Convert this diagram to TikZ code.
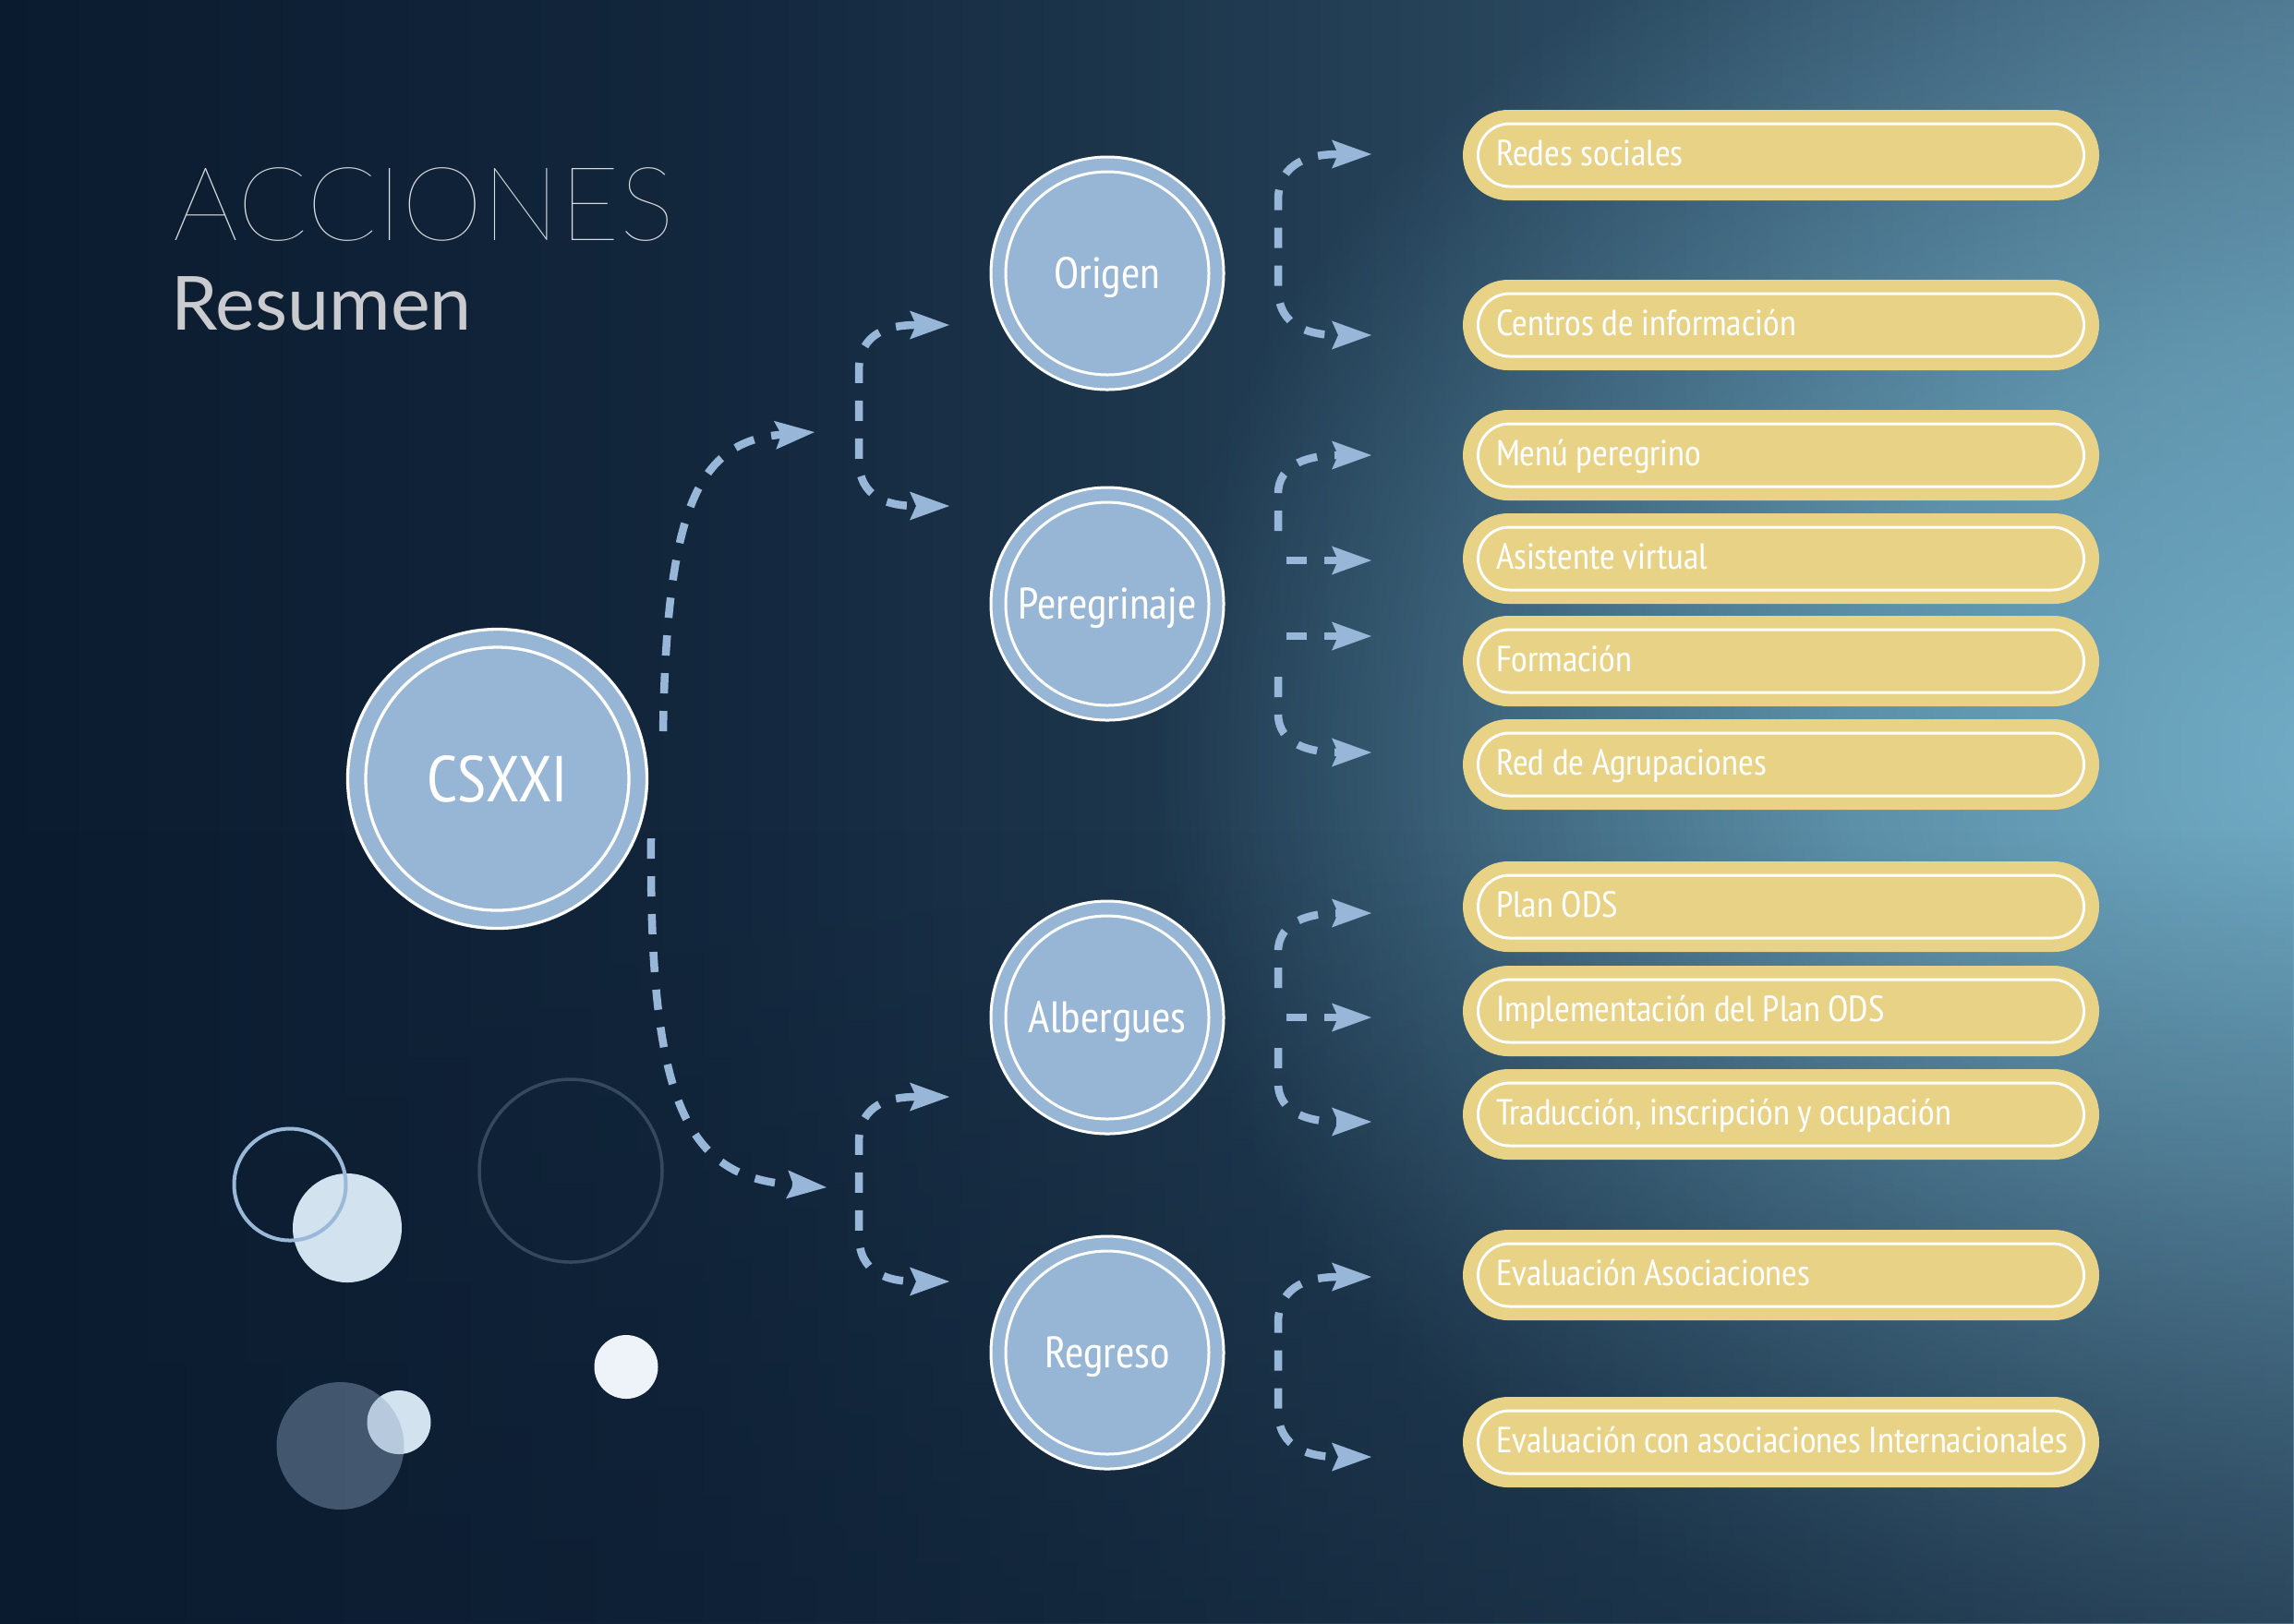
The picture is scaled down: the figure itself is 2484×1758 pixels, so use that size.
\documentclass[tikz,border=0pt]{standalone}
\usepackage{fontspec}
\usetikzlibrary{arrows.meta,fadings}
\suppressfontnotfounderror=1
\font\probeA="PT Sans Narrow" at 10pt
\ifx\probeA\nullfont
  \newfontfamily\condfont{PT Sans}[FakeStretch=0.84]
\else
  \newfontfamily\condfont{PT Sans Narrow}[FakeStretch=1.035]
\fi
\font\probeB="Lato Hairline" at 10pt
\ifx\probeB\nullfont
  \font\probeC="Lato Light" at 10pt
  \ifx\probeC\nullfont
    \newfontfamily\thinfont{Lato}
  \else
    \newfontfamily\thinfont{Lato Light}
  \fi
\else
  \newfontfamily\thinfont{Lato Hairline}
\fi
\suppressfontnotfounderror=0
\newfontfamily\latofont{Lato}

\definecolor{bgA}{HTML}{0B1B2F}
\definecolor{bgB}{HTML}{12263C}
\definecolor{bgC}{HTML}{1D364C}
\definecolor{bgD}{HTML}{2D4D64}
\definecolor{bgE}{HTML}{466A82}
\definecolor{glowc}{HTML}{7EC0DA}
\definecolor{circblue}{HTML}{97B5D5}
\definecolor{arrowblue}{HTML}{98B7D8}
\definecolor{boxyellow}{HTML}{E8D285}
\definecolor{titlegrey}{HTML}{D9DCDF}
\definecolor{subgrey}{HTML}{C9CBCE}
\definecolor{ringblue}{HTML}{9AB8D8}
\definecolor{paleblue}{HTML}{D2E2EF}
\definecolor{darkring}{HTML}{34495F}
\definecolor{dotwhite}{HTML}{EEF3FA}
\definecolor{veilblue}{HTML}{91AAC5}

\pgfdeclarehorizontalshading{bgshade}{100bp}{color(0bp)=(bgA); color(25bp)=(bgA); color(40bp)=(bgB); color(50bp)=(bgC); color(62bp)=(bgD); color(75bp)=(bgE); color(100bp)=(bgE)}
\pgfdeclareradialshading{glowmask}{\pgfpointorigin}{color(0bp)=(white!75!black); color(10bp)=(white!55!black); color(25bp)=(black); color(50bp)=(black)}
\pgfdeclarefading{glowfade}{\pgfuseshading{glowmask}}
\tikzfading[name=bottomdark, top color=transparent!100, bottom color=transparent!50]

\tikzset{
  conn/.style={draw=arrowblue, line width=0.85mm, dash pattern=on 2.2mm off 1.9mm},
  ybox/.style={rectangle, rounded corners=4.9mm, fill=boxyellow, minimum height=9.8mm,
    text width=61.7mm, inner xsep=3.6mm, inner ysep=0pt, align=flush left, text=white,
    font=\condfont\fontsize{11.2}{12}\selectfont, text height=2.2mm, text depth=0mm},
  yring/.style={rectangle, rounded corners=3.4mm, draw=white, line width=0.3mm,
    minimum width=65.6mm, minimum height=6.8mm, inner sep=0pt},
  circnode/.style={circle, fill=circblue, draw=white, line width=0.3mm, minimum size=25.2mm,
    inner sep=0pt, text=white, font=\condfont\fontsize{13.6}{14}\selectfont,
    text height=9.5pt, text depth=0pt},
  bignode/.style={circle, fill=circblue, draw=white, line width=0.33mm, minimum size=32.4mm,
    inner sep=0pt, text=white, font=\condfont\fontsize{20}{21}\selectfont,
    text height=14pt, text depth=0pt},
  inring/.style={draw=white, line width=0.3mm}
}

\begin{document}
\begin{tikzpicture}[x=0.1mm, y=-0.1mm,
  >={Stealth[length=4.3mm, width=3.1mm, inset=0.7mm, line width=0pt]}]
\useasboundingbox (0,0) rectangle (2484,1758);
% background
\shade[shading=bgshade] (0,0) rectangle (2484,1758);
\fill[glowc, path fading=glowfade, fit fading=true] (2500,820) ellipse [x radius=1250, y radius=1050];
\fill[bgA, path fading=bottomdark, fit fading=true] (0,900) rectangle (2484,1758);

% title
\node[anchor=base west, inner sep=0pt, text=titlegrey,
  font=\thinfont\fontsize{31.7}{32}\selectfont] (title) at (187,260) {ACCIONES};
\node[anchor=base west, inner sep=0pt, text=subgrey,
  font=\latofont\fontsize{23}{24}\selectfont] (subtitle) at (185,357) {Resumen};

% decorative circles
\fill[paleblue] (376,1330) circle (59);
\draw[ringblue, line width=0.4mm] (314,1283) circle (60.5);
\draw[darkring, line width=0.35mm] (618,1268) circle (99);
\fill[dotwhite] (678,1480.5) circle (34.5);
\fill[paleblue] (432,1540.5) circle (34.5);
\fill[veilblue, opacity=0.41] (368.5,1566) circle (69);

% main circles
\node[bignode] (csxxi) at (538.5,843.5) {CSXXI};
\draw[inring, line width=0.33mm] (csxxi.center) circle (142.5);
\node[circnode] (origen) at (1199,296) {Origen};
\node[circnode] (peregrinaje) at (1199,654) {Peregrinaje};
\node[circnode] (albergues) at (1199,1102) {Albergues};
\node[circnode] (regreso) at (1199,1465) {Regreso};
\foreach \c in {origen,peregrinaje,albergues,regreso} {
  \draw[inring] (\c.center) circle (110);
}

% boxes
\foreach \n/\yy/\t in {1/168/{Redes sociales}, 2/352/{Centros de información},
  3/493/{Menú peregrino}, 4/605/{Asistente virtual}, 5/716/{Formación},
  6/828/{Red de Agrupaciones}, 7/982/{Plan ODS}, 8/1095/{Implementación del Plan ODS},
  9/1207/{Traducción, inscripción y ocupación}, 10/1381/{Evaluación Asociaciones},
  11/1562/{Evaluación con asociaciones Internacionales}} {
  \node[ybox] (b\n) at (1928.5,\yy) {\mbox{\t}};
  \node[yring] (r\n) at (b\n.center) {};
}

% connector end points
\coordinate (m1s) at (718,792);  \coordinate (m1t) at (882,468);
\coordinate (m2s) at (705,908);  \coordinate (m2t) at (895,1286);
\coordinate (a1) at (1028,352);  \coordinate (a2) at (1028,548);
\coordinate (b1) at (1028,1188); \coordinate (b2) at (1028,1388);
\coordinate (o1) at (1485,167);  \coordinate (o2) at (1485,363);
\coordinate (p1) at (1485,493);  \coordinate (p4) at (1485,815);
\coordinate (p1s) at (1384,575); \coordinate (p4s) at (1384,733);
\coordinate (p2s) at (1393,607); \coordinate (p2) at (1485,607);
\coordinate (p3s) at (1393,689); \coordinate (p3) at (1485,689);
\coordinate (g1) at (1485,989);  \coordinate (g3) at (1485,1215);
\coordinate (g1s) at (1384,1070); \coordinate (g3s) at (1384,1135);
\coordinate (g2s) at (1393,1102); \coordinate (g2) at (1485,1102);
\coordinate (e1) at (1485,1383); \coordinate (e2) at (1485,1578);

% CSXXI branches
\draw[conn, ->] (m1s) .. controls (722,560) and (752,478) .. (m1t);
\draw[conn, ->] (m2s) .. controls (703,1200) and (745,1275) .. (m2t);

% second level C shapes
\draw[conn, <->] (a1) .. controls (963,352) and (930,360) .. (930,402) -- (930,498)
  .. controls (930,540) and (963,548) .. (a2);
\draw[conn, <->] (b1) .. controls (963,1188) and (930,1196) .. (930,1238) -- (930,1338)
  .. controls (930,1380) and (963,1388) .. (b2);

% third level
\draw[conn, <->] (o1) .. controls (1420,167) and (1384,175) .. (1384,217) -- (1384,313)
  .. controls (1384,355) and (1420,363) .. (o2);
\draw[conn, ->] (p1s) -- (1384,535) .. controls (1384,501) and (1420,493) .. (p1);
\draw[conn, ->] (p2s) -- (p2);
\draw[conn, ->] (p3s) -- (p3);
\draw[conn, ->] (p4s) -- (1384,773) .. controls (1384,807) and (1420,815) .. (p4);
\draw[conn, ->] (g1s) -- (1384,1031) .. controls (1384,997) and (1420,989) .. (g1);
\draw[conn, ->] (g2s) -- (g2);
\draw[conn, ->] (g3s) -- (1384,1173) .. controls (1384,1207) and (1420,1215) .. (g3);
\draw[conn, <->] (e1) .. controls (1420,1383) and (1384,1391) .. (1384,1433) -- (1384,1528)
  .. controls (1384,1570) and (1420,1578) .. (e2);
\end{tikzpicture}
\end{document}
